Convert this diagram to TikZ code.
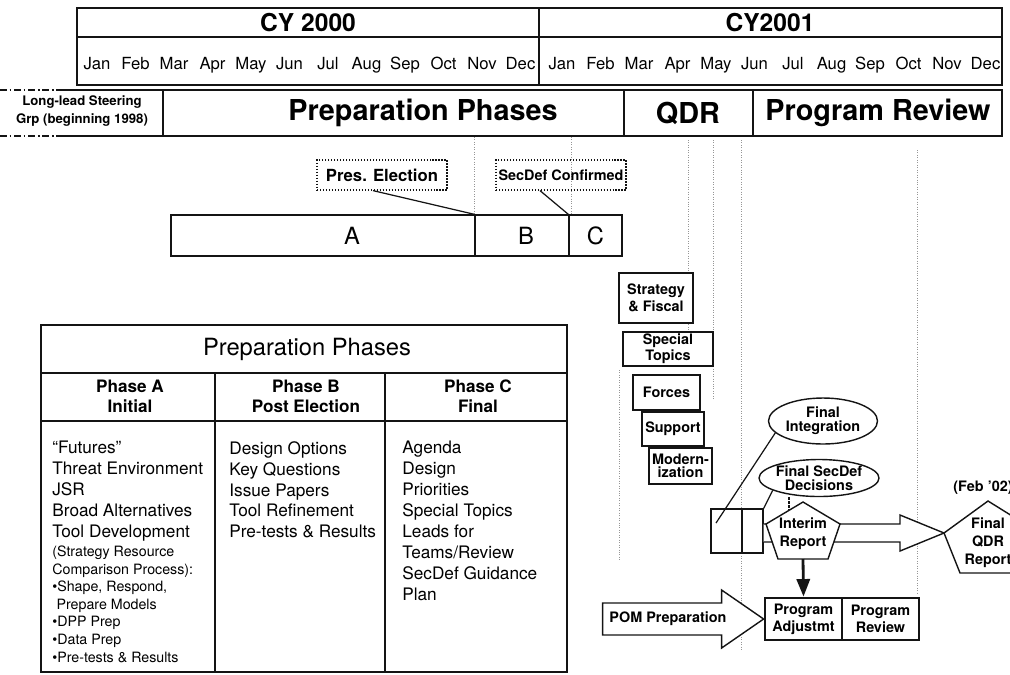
\documentclass[tikz,border=0pt]{standalone}
\usepackage{fontspec}
\setmainfont{TeX Gyre Heros}
\usetikzlibrary{positioning,arrows.meta,calc,shapes.geometric}
\definecolor{ink}{RGB}{20,20,20}
\definecolor{guide}{RGB}{150,150,150}
\tikzset{
  frm/.style={draw=ink,line width=0.8pt},
  cell/.style={frm,inner sep=0pt,align=center},
  mon/.style={font=\fontsize{9.5}{11}\selectfont,anchor=base},
  yr/.style={font=\fontsize{14}{16}\selectfont\bfseries},
  bigt/.style={font=\fontsize{16.4}{18}\selectfont\bfseries},
  lead/.style={font=\fontsize{7.5}{10}\selectfont\bfseries,align=center},
  tag/.style={draw=ink,densely dotted,line width=0.7pt,inner sep=0pt,minimum width=2.6cm,minimum height=0.6cm},
  seg/.style={cell,minimum height=0.82cm},
  letter/.style={font=\fontsize{13.5}{15}\selectfont},
  ttl/.style={font=\fontsize{13.5}{15}\selectfont},
  phh/.style={font=\fontsize{9.75}{11.3}\selectfont\bfseries,align=center},
  body/.style={font=\fontsize{9.8}{11.9}\selectfont,align=left,inner sep=0pt},
  sub/.style={font=\fontsize{8.1}{10}\selectfont,align=left,inner sep=0pt},
  sm/.style={cell,fill=white,font=\fontsize{8.2}{9.6}\selectfont\bfseries},
  tight/.style={font=\fontsize{8.2}{7.6}\selectfont\bfseries},
  smt/.style={font=\fontsize{8.2}{10.3}\selectfont\bfseries,align=center,inner sep=0pt},
  ovt/.style={smt,font=\fontsize{8.2}{7.8}\selectfont\bfseries},
  oval/.style={frm,ellipse,inner sep=0pt,fill=white},
  hollow/.style={frm,fill=white,line join=miter},
  ln/.style={ink,line width=0.7pt},
  stub/.style={ink,line width=1.3pt,dash pattern=on 1.5pt off 0.7pt},
  guideline/.style={guide,densely dotted,line width=0.4pt},
  ar/.style={-{Triangle[length=10pt,width=7.5pt]},line width=1.6pt,ink},
}

\begin{document}
\begin{tikzpicture}[x=0.02cm,y=-0.02cm]
  \useasboundingbox (0,0) rectangle (1010,674);
  % faint column guides
  \foreach \gx/\ga/\gb in {474/137/215,571/137/215,688/140/330,713/140/400,741/140/650,917/150/595,619/370/560}
    \draw[guideline] (\gx,\ga) -- (\gx,\gb);

  % calendar
  \draw[frm] (77,8) rectangle (1002,85);
  \draw[frm] (77,37) -- (1002,37) (539,8) -- (539,85);
  \node[yr] (cy00) at (308,23) {CY 2000};
  \node[yr] (cy01) at (770,23) {CY2001};
  \foreach \m [count=\i from 0] in {Jan,Feb,Mar,Apr,May,Jun,Jul,Aug,Sep,Oct,Nov,Dec}{
    \node[mon] (ma\i) at (97+38.5*\i,69) {\m};
    \node[mon] (mb\i) at (562+38.5*\i,69) {\m};
  }

  % phase row
  \draw[frm] (163,90) rectangle (1002,136);
  \draw[frm] (624,90) -- (624,136) (753,90) -- (753,136);
  \draw[frm] (57,90) -- (163,90) (57,136) -- (163,136);
  \draw[frm,dash pattern=on 4pt off 1.5pt on 1pt off 1.5pt] (0,90) -- (57,90) (0,136) -- (57,136);
  \node[lead] (steer) at (82,111) {Long-lead Steering\\Grp (beginning 1998)};
  \node[bigt] (prep) at (423,113) {Preparation Phases};
  \node[bigt] (qdr) at (688,113) {QDR};
  \node[bigt] (prog) at (878,113) {Program Review};

  % milestones
  \node[tag,font=\fontsize{9.5}{11}\selectfont\bfseries] (pres) at (382,175) {Pres. Election};
  \node[tag,font=\fontsize{8.2}{10}\selectfont\bfseries] (sdc) at (561,175) {SecDef Confirmed};
  \node[seg,minimum width=6.08cm] (pa) at (323,235.5) {};
  \node[seg,minimum width=1.88cm] (pb) at (522,235.5) {};
  \node[seg,minimum width=1.06cm] (pc) at (595.5,235.5) {};
  \node[letter] (la) at ($(pa.center)+(29,0)$) {A};
  \node[letter] (lb) at ($(pb.center)+(4,0)$) {B};
  \node[letter] (lc) at (pc.center) {C};
  \draw[ln] ($(pres.south)+(-9,0)$) -- (pb.north west);
  \draw[ln] ($(sdc.south)+(-21,0)$) -- (pc.north west);

  % phase table
  \draw[frm] (41,325) rectangle (567,672);
  \draw[frm] (41,373) -- (567,373) (41,421) -- (567,421) (215,373) -- (215,672) (385,373) -- (385,672);
  \node[ttl] (tt) at (307,349) {Preparation Phases};
  \node[phh] (hA) at (130,396) {Phase A\\Initial};
  \node[phh] (hB) at (306,396) {Phase B\\Post Election};
  \node[phh] (hC) at (478,396) {Phase C\\Final};
  \node[body,anchor=north west] (colA) at (52,441) {“Futures”\\Threat Environment\\JSR\\Broad Alternatives\\Tool Development};
  \node[sub,below=0.08cm of colA.south west,anchor=north west] (colAs) {(Strategy Resource\\Comparison Process):\\•Shape, Respond,\\\hspace*{0.3em}Prepare Models\\•DPP Prep\\•Data Prep\\•Pre-tests \& Results};
  \node[body,anchor=north west] (colB) at (229,441) {Design Options\\Key Questions\\Issue Papers\\Tool Refinement\\Pre-tests \& Results};
  \node[body,anchor=north west] (colC) at (402,441) {Agenda\\Design\\Priorities\\Special Topics\\Leads for\\Teams/Review\\SecDef Guidance\\Plan};

  % QDR teams
  \node[sm,minimum width=1.48cm,minimum height=1.0cm] (stf) at (656,298) {Strategy\\\& Fiscal};
  \node[sm,tight,minimum width=1.8cm,minimum height=0.68cm] (spt) at (668,349) {Special\\Topics};
  \node[sm,minimum width=1.34cm,minimum height=0.7cm] (frc) at (666.5,392.5) {Forces};
  \node[sm,minimum width=1.24cm,minimum height=0.68cm] (sup) at (673,429) {Support};
  \node[sm,tight,minimum width=1.26cm,minimum height=0.72cm] (mod) at (680.5,466) {Modern-\\ization};

  % integration and reports
  \node[cell,minimum width=0.62cm,minimum height=0.88cm] (dbL) at (726.5,531) {};
  \node[cell,minimum width=0.42cm,minimum height=0.88cm] (dbR) at (752.5,531) {};
  \coordinate (fq-w) at (944,533);
  \draw[hollow] ($(dbR.east|-fq-w)+(0,-9)$) -- ($(fq-w)+(-44,-9)$) -- ($(fq-w)+(-44,-18)$)
    -- (fq-w) -- ($(fq-w)+(-44,18)$) -- ($(fq-w)+(-44,9)$) -- ($(dbR.east|-fq-w)+(0,9)$);
  \node[oval,minimum width=2.18cm,minimum height=0.92cm] (fint) at (823,421) {};
  \node[ovt] (fint-t) at (fint) {Final\\Integration};
  \node[oval,minimum width=2.4cm,minimum height=0.74cm] (fsd) at (819,478) {};
  \node[ovt] (fsd-t) at (fsd) {Final SecDef\\Decisions};
  \coordinate (fi-end) at (716,523);
  \draw[ln] (fint.194) -- (fi-end);
  \draw[ln] (fsd.195) -- (dbR.north east);

  \coordinate (ir-n) at (803,502);
  \coordinate (ir-e) at (840,524);
  \coordinate (ir-se) at (828,559);
  \coordinate (ir-sw) at (778,559);
  \coordinate (ir-w) at (766,524);
  \draw[hollow] (ir-n) -- (ir-e) -- (ir-se) -- (ir-sw) -- (ir-w) -- cycle;
  \node[smt] (irep) at (803,534) {Interim\\Report};
  \coordinate (ir-k) at (789,510);
  \draw[stub] (fsd.south -| ir-k) -- (ir-k);

  \coordinate (fq-n) at (988,501);
  \coordinate (fq-e) at (1033,529);
  \coordinate (fq-se) at (1016,573);
  \coordinate (fq-sw) at (960,573);
  \draw[hollow] (fq-n) -- (fq-e) -- (fq-se) -- (fq-sw) -- (fq-w) -- cycle;
  \node[smt] (fqr) at (988,543) {Final\\QDR\\Report};
  \node[smt] (feb) at (983,488) {(Feb ’02)};

  % program review
  \node[sm,line width=1.6pt,minimum width=1.54cm,minimum height=0.84cm] (padj) at (803.5,619) {Program\\Adjustmt};
  \node[sm,minimum width=1.54cm,minimum height=0.84cm] (prv) at (880.5,619) {Program\\Review};
  \draw[hollow] ($(padj.west)+(-161,-16)$) -- ($(padj.west)+(-42,-16)$) -- ($(padj.west)+(-42,-29)$)
    -- (padj.west) -- ($(padj.west)+(-42,29)$) -- ($(padj.west)+(-42,16)$) -- ($(padj.west)+(-161,16)$) -- cycle;
  \node[smt] (pom) at (668,619) {POM Preparation};
  \draw[ar] ($(ir-sw)!0.5!(ir-se)$) -- (padj.north);
\end{tikzpicture}
\end{document}
